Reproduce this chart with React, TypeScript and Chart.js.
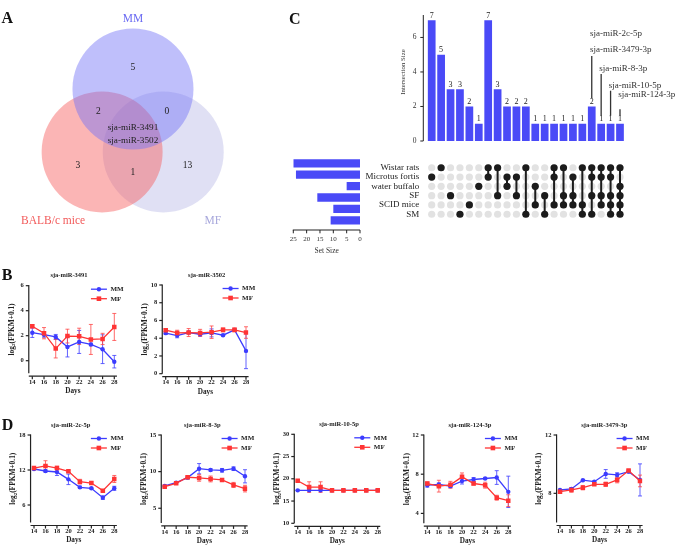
import React, { useEffect, useRef } from 'react';
import { Chart, registerables } from 'chart.js';

Chart.register(...registerables);

const SERIF = '"Liberation Serif", "Times New Roman", Times, serif';
const INK = '#222222';
const BAR_BLUE = '#4a4af7';
const MM_BLUE = '#3c3cff';
const MF_RED = '#ff3434';

// ---------- A: Venn diagram ----------
const vennSetNames = ['MM', 'BALB/c mice', 'MF'];
const vennRegionKeys = ['MM', 'MM&BALB/c', 'MM&MF', 'BALB/c', 'BALB/c&MF', 'MF'];
const vennRegionCounts = [5, 2, 0, 3, 1, 13];
const vennSharedMiRNAs = ['sja-miR-3491', 'sja-miR-3502'];

// ---------- C: UpSet plot ----------
const upsetSets = ['Wistar rats', 'Microtus fortis', 'water buffalo', 'SF', 'SCID mice', 'SM'];
const upsetSetSizes = [25, 24, 5, 16, 10, 11];
const intersectionSizes = [7, 5, 3, 3, 2, 1, 7, 3, 2, 2, 2, 1, 1, 1, 1, 1, 1, 2, 1, 1, 1];
const intersectionMembers = [
  ['Microtus fortis'],
  ['Wistar rats'],
  ['SF'],
  ['SM'],
  ['SCID mice'],
  ['water buffalo'],
  ['Wistar rats', 'Microtus fortis'],
  ['Wistar rats', 'SF'],
  ['Microtus fortis', 'water buffalo'],
  ['Microtus fortis', 'SF'],
  ['Wistar rats', 'SM'],
  ['water buffalo', 'SCID mice'],
  ['SF', 'SM'],
  ['Wistar rats', 'Microtus fortis', 'SCID mice'],
  ['Wistar rats', 'SF', 'SCID mice'],
  ['Microtus fortis', 'SF', 'SCID mice'],
  ['Wistar rats', 'SCID mice', 'SM'],
  ['Wistar rats', 'Microtus fortis', 'SF', 'SM'],
  ['Wistar rats', 'Microtus fortis', 'SF', 'SCID mice'],
  ['Wistar rats', 'Microtus fortis', 'SF', 'SCID mice', 'SM'],
  ['Wistar rats', 'water buffalo', 'SF', 'SCID mice', 'SM'],
];
const highlightColumns = [17, 18, 19, 20];
const highlightNames = [['sja-miR-2c-5p', 'sja-miR-3479-3p'], ['sja-miR-8-3p'], ['sja-miR-10-5p'], ['sja-miR-124-3p']];

// ---------- B / D: expression time courses ----------
const days = [14, 16, 18, 20, 22, 24, 26, 28];

const mir3491MM = [2.24, 2.08, 1.9, 1.1, 1.5, 1.3, 0.92, -0.08];
const mir3491MMErr = [0.38, 0.2, 0.2, 0.8, 0.92, 0.1, 1.15, 0.5];
const mir3491MF = [2.76, 2.2, 0.97, 1.97, 1.95, 1.7, 1.74, 2.7];
const mir3491MFErr = [0.12, 0.45, 0.75, 0.55, 0.65, 1.2, 0.45, 1.08];

const mir3502MM = [4.57, 4.3, 4.64, 4.45, 4.6, 4.34, 4.94, 2.57];
const mir3502MMErr = [0.15, 0.25, 0.1, 0.2, 0.45, 0.1, 0.1, 2.0];
const mir3502MF = [4.9, 4.6, 4.64, 4.6, 4.68, 4.94, 4.94, 4.64];
const mir3502MFErr = [0.15, 0.3, 0.45, 0.4, 0.7, 0.2, 0.2, 0.65];

const mir2c5pMM = [12.17, 11.83, 11.66, 10.4, 9.03, 8.86, 7.26, 8.86];
const mir2c5pMMErr = [0.15, 0.2, 0.6, 0.9, 0.2, 0.1, 0.3, 0.35];
const mir2c5pMF = [12.34, 12.69, 12.34, 11.77, 10.0, 9.77, 8.46, 10.46];
const mir2c5pMFErr = [0.2, 0.9, 0.3, 0.2, 0.4, 0.2, 0.15, 0.6];

const mir83pMM = [8.05, 8.5, 9.18, 10.4, 10.23, 10.18, 10.4, 9.36];
const mir83pMMErr = [0.1, 0.1, 0.15, 0.7, 0.15, 0.25, 0.25, 0.9];
const mir83pMF = [7.95, 8.4, 9.23, 9.14, 9.0, 8.86, 8.18, 7.68];
const mir83pMFErr = [0.1, 0.1, 0.2, 0.45, 0.4, 0.1, 0.35, 0.45];

const mir105pMM = [17.4, 17.4, 17.4, 17.4, 17.4, 17.4, 17.4, 17.4];
const mir105pMMErr = [0.1, 0.1, 0.1, 0.1, 0.1, 0.1, 0.1, 0.1];
const mir105pMF = [19.55, 18.13, 18.13, 17.4, 17.4, 17.4, 17.4, 17.4];
const mir105pMFErr = [0.15, 1.2, 1.2, 0.1, 0.05, 0.05, 0.05, 0.05];

const mir1243pMM = [6.88, 6.95, 6.78, 7.3, 7.46, 7.56, 7.66, 6.2];
const mir1243pMMErr = [0.2, 0.15, 0.15, 0.3, 0.2, 0.1, 0.7, 1.6];
const mir1243pMF = [7.05, 6.78, 6.92, 7.73, 7.05, 6.88, 5.6, 5.3];
const mir1243pMFErr = [0.15, 0.6, 0.35, 0.4, 0.15, 0.3, 0.25, 0.6];

const mir34793pMM = [8.23, 8.3, 8.9, 8.8, 9.33, 9.26, 9.49, 8.92];
const mir34793pMMErr = [0.05, 0.1, 0.05, 0.05, 0.3, 0.15, 0.1, 1.1];
const mir34793pMF = [8.11, 8.23, 8.39, 8.62, 8.62, 8.92, 9.56, 8.85];
const mir34793pMFErr = [0.05, 0.15, 0.15, 0.05, 0.15, 0.2, 0.05, 0.4];

// ---------- layout helpers ----------
type Box = { x: number; y: number; w: number; h: number };

const serif = (size: number, bold = false) => `${bold ? 'bold ' : ''}${size}px ${SERIF}`;

function seg(ctx: CanvasRenderingContext2D, x1: number, y1: number, x2: number, y2: number) {
  ctx.beginPath();
  ctx.moveTo(x1, y1);
  ctx.lineTo(x2, y2);
  ctx.stroke();
}

function ChartCanvas({ box, build }: { box: Box; build: (el: HTMLCanvasElement) => Chart }) {
  const ref = useRef<HTMLCanvasElement | null>(null);
  useEffect(() => {
    const chart = build(ref.current as HTMLCanvasElement);
    return () => chart.destroy();
  }, []);
  return (
    <canvas
      ref={ref}
      width={box.w}
      height={box.h}
      style={{ position: 'absolute', left: box.x, top: box.y, width: box.w, height: box.h }}
    />
  );
}

// ---------- Venn ----------
const VENN_BOX: Box = { x: 0, y: 0, w: 280, h: 240 };
// circle centres in units of the circle radius
const vennCentres: Record<string, [number, number]> = {
  MM: [0, 0],
  'BALB/c mice': [-0.51, 1.04],
  MF: [0.5, 1.04],
};
const vennFill: Record<string, string> = {
  MM: 'rgba(112,112,246,0.45)',
  'BALB/c mice': 'rgba(246,92,92,0.45)',
  MF: 'rgba(182,182,228,0.42)',
};
const vennNameColor: Record<string, string> = {
  MM: '#6a6af2',
  'BALB/c mice': '#f25a5a',
  MF: '#a8a8dc',
};
const vennNamePos: Record<string, [number, number]> = {
  MM: [0, -1.16],
  'BALB/c mice': [-1.32, 2.18],
  MF: [1.32, 2.18],
};
const vennRegionPos: Record<string, [number, number]> = {
  MM: [0, -0.35],
  'MM&BALB/c': [-0.57, 0.375],
  'MM&MF': [0.56, 0.375],
  'BALB/c': [-0.91, 1.27],
  'BALB/c&MF': [0, 1.38],
  MF: [0.9, 1.27],
};

function buildVenn(el: HTMLCanvasElement) {
  const labels = {
    id: 'vennLabels',
    afterDatasetsDraw(chart: any) {
      const { ctx } = chart;
      const sx = chart.scales.x;
      const sy = chart.scales.y;
      const px = (u: number) => sx.getPixelForValue(u);
      const py = (v: number) => sy.getPixelForValue(v);
      ctx.save();
      ctx.textAlign = 'center';
      ctx.textBaseline = 'middle';
      ctx.font = serif(11.5);
      vennSetNames.forEach((n) => {
        ctx.fillStyle = vennNameColor[n];
        const [u, v] = vennNamePos[n];
        ctx.fillText(n, px(u), py(v));
      });
      ctx.fillStyle = INK;
      ctx.font = serif(9.5);
      vennRegionKeys.forEach((k, i) => {
        const [u, v] = vennRegionPos[k];
        ctx.fillText(String(vennRegionCounts[i]), px(u), py(v));
      });
      ctx.font = serif(9.2);
      vennSharedMiRNAs.forEach((n, i) => ctx.fillText(n, px(0), py(0.64 + i * 0.215)));
      ctx.restore();
    },
  };
  // one unit of the scale is one circle radius
  const unitRadius = (c: any) => {
    const s = c.chart.scales.x;
    if (!s || !isFinite(s.getPixelForValue(1))) return 0;
    return Math.abs(s.getPixelForValue(1) - s.getPixelForValue(0));
  };
  return new Chart(el, {
    type: 'scatter',
    data: {
      datasets: vennSetNames.map((n) => ({
        data: [{ x: vennCentres[n][0], y: vennCentres[n][1] }],
        backgroundColor: vennFill[n],
        pointBackgroundColor: vennFill[n],
        pointBorderWidth: 0,
        pointRadius: unitRadius,
        pointHoverRadius: unitRadius,
        clip: false,
      })) as any,
    },
    options: {
      responsive: false,
      animation: false,
      devicePixelRatio: 1,
      layout: { padding: 0 },
      events: [],
      plugins: { legend: { display: false }, tooltip: { enabled: false } },
      scales: {
        x: { type: 'linear', min: -2.198, max: 2.43, display: false },
        y: { type: 'linear', min: -1.471, max: 2.496, reverse: true, display: false },
      },
    },
    plugins: [labels],
  });
}

// ---------- UpSet: intersection bars ----------
const BARS_BOX: Box = { x: 380, y: 0, w: 298, h: 156 };
const PLOT_L = 427;
const PLOT_R = 624.7;
const hlTextY = [[33.3, 50], [68.3], [86], [95]];
const hlLineTop = [56, 74, 90.7, 109.3];

function buildIntersectionBars(el: HTMLCanvasElement) {
  const yMax = 7.3;
  const deco = {
    id: 'upsetBarsDeco',
    afterDraw(chart: any) {
      const { ctx, chartArea: ca } = chart;
      const sy = chart.scales.y;
      const meta = chart.getDatasetMeta(0);
      const values = chart.data.datasets[0].data as number[];
      ctx.save();
      // value labels
      ctx.fillStyle = INK;
      ctx.font = serif(8);
      ctx.textAlign = 'center';
      ctx.textBaseline = 'bottom';
      meta.data.forEach((bar: any, i: number) => ctx.fillText(String(values[i]), bar.x, bar.y - 0.5));
      // y axis
      const ax = ca.left - 3.7;
      ctx.strokeStyle = INK;
      ctx.lineWidth = 1;
      seg(ctx, ax, sy.getPixelForValue(0), ax, sy.getPixelForValue(yMax));
      [0, 2, 4, 6].forEach((v) => {
        const p = sy.getPixelForValue(v);
        seg(ctx, ax - 3, p, ax, p);
      });
      // axis title
      ctx.save();
      ctx.translate(23.3, 72);
      ctx.rotate(-Math.PI / 2);
      ctx.textAlign = 'center';
      ctx.textBaseline = 'middle';
      ctx.font = serif(6.8);
      ctx.fillStyle = '#333';
      ctx.fillText('Intersection Size', 0, 0);
      ctx.restore();
      // highlighted miRNAs
      ctx.font = serif(9);
      ctx.textAlign = 'left';
      ctx.textBaseline = 'middle';
      ctx.fillStyle = '#333';
      ctx.strokeStyle = '#333';
      ctx.lineWidth = 1.3;
      highlightColumns.forEach((col, k) => {
        const bar = meta.data[col];
        highlightNames[k].forEach((n, j) => ctx.fillText(n, bar.x - 1.8, hlTextY[k][j] - BARS_BOX.y));
        seg(ctx, bar.x, hlLineTop[k] - BARS_BOX.y, bar.x, bar.y - 8);
      });
      ctx.restore();
    },
  };
  return new Chart(el, {
    type: 'bar',
    data: {
      labels: intersectionSizes.map((_, i) => String(i + 1)),
      datasets: [
        {
          data: intersectionSizes,
          backgroundColor: BAR_BLUE,
          borderWidth: 0,
          barPercentage: 0.82,
          categoryPercentage: 1,
        },
      ],
    },
    options: {
      responsive: false,
      animation: false,
      devicePixelRatio: 1,
      events: [],
      layout: { padding: { left: 0, top: 0.44, right: BARS_BOX.x + BARS_BOX.w - PLOT_R, bottom: BARS_BOX.h - 152.7 } },
      plugins: { legend: { display: false }, tooltip: { enabled: false } },
      scales: {
        x: { type: 'category', display: false, offset: true },
        y: {
          min: 0,
          max: yMax,
          afterBuildTicks: (s: any) => {
            s.ticks = [0, 2, 4, 6].map((v) => ({ value: v }));
          },
          afterFit: (s: any) => {
            s.width = PLOT_L - BARS_BOX.x;
          },
          grid: { display: false, drawTicks: false },
          border: { display: false },
          ticks: { font: { family: SERIF, size: 7.5 }, color: '#333', padding: 10.5, autoSkip: false },
        },
      },
    },
    plugins: [deco],
  });
}

// ---------- UpSet: set sizes ----------
const SETS_BOX: Box = { x: 285, y: 150, w: 85, h: 110 };
const MATRIX_TOP = 157.6;
const MATRIX_BOTTOM = 226;

function buildSetSizes(el: HTMLCanvasElement) {
  const deco = {
    id: 'setSizeDeco',
    afterDraw(chart: any) {
      const { ctx, chartArea: ca } = chart;
      const sx = chart.scales.x;
      const ay = ca.bottom + 4;
      ctx.save();
      ctx.strokeStyle = INK;
      ctx.lineWidth = 1;
      seg(ctx, sx.getPixelForValue(25) - 0.5, ay, sx.getPixelForValue(0), ay);
      [0, 5, 10, 15, 20, 25].forEach((v) => {
        const p = sx.getPixelForValue(v);
        seg(ctx, p, ay, p, ay + 3.3);
      });
      ctx.fillStyle = '#333';
      ctx.font = serif(7.5);
      ctx.textAlign = 'center';
      ctx.textBaseline = 'middle';
      ctx.fillText('Set Size', (ca.left + ca.right) / 2, ca.bottom + 25.3);
      ctx.restore();
    },
  };
  return new Chart(el, {
    type: 'bar',
    data: {
      labels: upsetSets,
      datasets: [
        {
          data: upsetSetSizes,
          backgroundColor: BAR_BLUE,
          borderWidth: 0,
          barPercentage: 0.73,
          categoryPercentage: 1,
        },
      ],
    },
    options: {
      indexAxis: 'y',
      responsive: false,
      animation: false,
      devicePixelRatio: 1,
      events: [],
      layout: {
        padding: {
          left: 293.3 - SETS_BOX.x,
          right: SETS_BOX.x + SETS_BOX.w - 360,
          top: MATRIX_TOP - SETS_BOX.y,
          bottom: 0,
        },
      },
      plugins: { legend: { display: false }, tooltip: { enabled: false } },
      scales: {
        y: { type: 'category', display: false },
        x: {
          min: 0,
          max: 25,
          reverse: true,
          afterBuildTicks: (s: any) => {
            s.ticks = [0, 5, 10, 15, 20, 25].map((v) => ({ value: v }));
          },
          afterFit: (s: any) => {
            s.height = SETS_BOX.y + SETS_BOX.h - MATRIX_BOTTOM;
          },
          grid: { display: false, drawTicks: false },
          border: { display: false },
          ticks: { font: { family: SERIF, size: 7 }, color: '#333', padding: 9.1, maxRotation: 0, autoSkip: false },
        },
      },
    },
    plugins: [deco],
  });
}

// ---------- UpSet: membership matrix ----------
const MATRIX_BOX: Box = { x: 330, y: 150, w: 348, h: 82 };

function buildMatrix(el: HTMLCanvasElement) {
  const rowOf = (name: string) => upsetSets.indexOf(name);
  const filled = intersectionMembers.flatMap((m, c) => m.map((n) => ({ x: c, y: rowOf(n) })));
  const empty = intersectionMembers.flatMap((_, c) => upsetSets.map((_, r) => ({ x: c, y: r })));
  const links = intersectionMembers
    .map((m, c) => ({ c, rows: m.map(rowOf) }))
    .filter((d) => d.rows.length > 1)
    .map((d) => ({
      type: 'line' as const,
      data: [
        { x: d.c, y: Math.min(...d.rows) },
        { x: d.c, y: Math.max(...d.rows) },
      ],
      borderColor: '#1c1c1c',
      borderWidth: 2,
      pointRadius: 0,
    }));
  return new Chart(el, {
    type: 'scatter',
    data: {
      datasets: [
        { data: filled, backgroundColor: '#1c1c1c', borderWidth: 0, pointRadius: 3.6 } as any,
        ...links,
        { data: empty, backgroundColor: '#e2e2e2', borderWidth: 0, pointRadius: 3.6 } as any,
      ],
    },
    options: {
      responsive: false,
      animation: false,
      devicePixelRatio: 1,
      events: [],
      layout: {
        padding: {
          left: 0,
          right: MATRIX_BOX.x + MATRIX_BOX.w - PLOT_R,
          top: MATRIX_TOP - MATRIX_BOX.y,
          bottom: MATRIX_BOX.y + MATRIX_BOX.h - MATRIX_BOTTOM,
        },
      },
      plugins: { legend: { display: false }, tooltip: { enabled: false } },
      scales: {
        x: { type: 'linear', min: -0.5, max: intersectionMembers.length - 0.5, display: false },
        y: {
          type: 'linear',
          min: -0.5,
          max: upsetSets.length - 0.5,
          reverse: true,
          afterBuildTicks: (s: any) => {
            s.ticks = upsetSets.map((_, i) => ({ value: i }));
          },
          afterFit: (s: any) => {
            s.width = PLOT_L - MATRIX_BOX.x;
          },
          grid: { display: false, drawTicks: false },
          border: { display: false },
          ticks: {
            font: { family: SERIF, size: 9 },
            color: INK,
            padding: 7.7,
            autoSkip: false,
            callback: (v: any) => upsetSets[v as number],
          },
        },
      },
    },
  });
}

// ---------- time-course line charts ----------
const X_MIN = 13.4;
const X_MAX = 28.45;

type LineSpec = {
  title: string;
  mm: number[];
  mmErr: number[];
  mf: number[];
  mfErr: number[];
  yMin: number;
  yMax: number;
  yTicks: number[];
  box: Box;
  x14: number;
  x28: number;
  top: number;
  bottom: number;
  titleX: number;
};

const lineSpecs: LineSpec[] = [
  {
    title: 'sja-miR-3491', mm: mir3491MM, mmErr: mir3491MMErr, mf: mir3491MF, mfErr: mir3491MFErr,
    yMin: -1, yMax: 6, yTicks: [0, 2, 4, 6],
    box: { x: 0, y: 266, w: 134, h: 130 }, x14: 32.3, x28: 114.3, top: 285.7, bottom: 373.2, titleX: 69,
  },
  {
    title: 'sja-miR-3502', mm: mir3502MM, mmErr: mir3502MMErr, mf: mir3502MF, mfErr: mir3502MFErr,
    yMin: 0, yMax: 10, yTicks: [0, 2, 4, 6, 8, 10],
    box: { x: 134, y: 266, w: 136, h: 130 }, x14: 165.7, x28: 246, top: 285, bottom: 373.7, titleX: 206.7,
  },
  {
    title: 'sja-miR-2c-5p', mm: mir2c5pMM, mmErr: mir2c5pMMErr, mf: mir2c5pMF, mfErr: mir2c5pMFErr,
    yMin: 3, yMax: 18, yTicks: [6, 12, 18],
    box: { x: 0, y: 416, w: 132, h: 130 }, x14: 34, x28: 114.3, top: 435, bottom: 522.5, titleX: 70.7,
  },
  {
    title: 'sja-miR-8-3p', mm: mir83pMM, mmErr: mir83pMMErr, mf: mir83pMF, mfErr: mir83pMFErr,
    yMin: 3, yMax: 15, yTicks: [5, 10, 15],
    box: { x: 132, y: 416, w: 133, h: 130 }, x14: 164.7, x28: 245, top: 435, bottom: 522.9, titleX: 202.3,
  },
  {
    title: 'sja-miR-10-5p', mm: mir105pMM, mmErr: mir105pMMErr, mf: mir105pMF, mfErr: mir105pMFErr,
    yMin: 10, yMax: 30, yTicks: [10, 15, 20, 25, 30],
    box: { x: 265, y: 416, w: 133, h: 130 }, x14: 297.7, x28: 377.7, top: 434.3, bottom: 523.3, titleX: 339,
  },
  {
    title: 'sja-miR-124-3p', mm: mir1243pMM, mmErr: mir1243pMMErr, mf: mir1243pMF, mfErr: mir1243pMFErr,
    yMin: 3, yMax: 12, yTicks: [4, 8, 12],
    box: { x: 398, y: 416, w: 135, h: 130 }, x14: 427.3, x28: 508.3, top: 435, bottom: 523.2, titleX: 470,
  },
  {
    title: 'sja-miR-3479-3p', mm: mir34793pMM, mmErr: mir34793pMMErr, mf: mir34793pMF, mfErr: mir34793pMFErr,
    yMin: 6, yMax: 12, yTicks: [8, 12],
    box: { x: 533, y: 416, w: 145, h: 130 }, x14: 560, x28: 640, top: 435, bottom: 522.5, titleX: 604.3,
  },
];

function buildLineChart(el: HTMLCanvasElement, spec: LineSpec) {
  const perDay = (spec.x28 - spec.x14) / 14;
  const plotL = spec.x14 - (14 - X_MIN) * perDay;
  const plotR = spec.x28 + (X_MAX - 28) * perDay;
  const { box } = spec;

  const frame = {
    id: 'prismFrame',
    beforeDatasetsDraw(chart: any) {
      const { ctx } = chart;
      const sx = chart.scales.x;
      const sy = chart.scales.y;
      ctx.save();
      ctx.lineWidth = 1;
      chart.data.datasets.forEach((ds: any) => {
        ctx.strokeStyle = ds.errorColor;
        ds.data.forEach((p: any, j: number) => {
          const e = ds.errors[j];
          const px = sx.getPixelForValue(p.x);
          const y1 = sy.getPixelForValue(p.y + e);
          const y2 = sy.getPixelForValue(p.y - e);
          ctx.beginPath();
          ctx.moveTo(px, y1);
          ctx.lineTo(px, y2);
          ctx.moveTo(px - 2, y1);
          ctx.lineTo(px + 2, y1);
          ctx.moveTo(px - 2, y2);
          ctx.lineTo(px + 2, y2);
          ctx.stroke();
        });
      });
      ctx.restore();
    },
    afterDraw(chart: any) {
      const { ctx, chartArea: ca } = chart;
      const sx = chart.scales.x;
      const sy = chart.scales.y;
      ctx.save();
      ctx.strokeStyle = INK;
      ctx.lineWidth = 1.2;
      // y axis with outward ticks
      seg(ctx, ca.left, sy.getPixelForValue(spec.yMax) - 0.6, ca.left, sy.getPixelForValue(spec.yMin));
      spec.yTicks.forEach((v) => {
        const p = sy.getPixelForValue(v);
        seg(ctx, ca.left - 3, p, ca.left, p);
      });
      // detached x axis
      const xb = ca.bottom + 3;
      seg(ctx, ca.left, xb, ca.right, xb);
      days.forEach((d) => {
        const p = sx.getPixelForValue(d);
        seg(ctx, p, xb, p, xb + 3);
      });
      ctx.fillStyle = INK;
      ctx.textAlign = 'center';
      ctx.textBaseline = 'middle';
      // title
      ctx.font = serif(6.5, true);
      ctx.fillText(spec.title, spec.titleX - box.x, ca.top - 10);
      // x title
      ctx.font = serif(7.2, true);
      ctx.fillText('Days', (ca.left + ca.right) / 2, ca.bottom + 18);
      // y title: log2(FPKM+0.1) with subscript
      ctx.save();
      ctx.translate(ca.left - 17, (ca.top + ca.bottom) / 2);
      ctx.rotate(-Math.PI / 2);
      ctx.textAlign = 'left';
      const mainFont = serif(7.4, true);
      const subFont = serif(5, true);
      ctx.font = mainFont;
      const wLog = ctx.measureText('log').width;
      const wRest = ctx.measureText('(FPKM+0.1)').width;
      ctx.font = subFont;
      const wSub = ctx.measureText('2').width;
      let cx = -(wLog + wSub + wRest) / 2;
      ctx.font = mainFont;
      ctx.fillText('log', cx, 0);
      cx += wLog;
      ctx.font = subFont;
      ctx.fillText('2', cx, 2);
      cx += wSub;
      ctx.font = mainFont;
      ctx.fillText('(FPKM+0.1)', cx, 0);
      ctx.restore();
      // legend
      chart.data.datasets.forEach((ds: any, i: number) => {
        const ly = ca.top + 3.5 + i * 9.5;
        const x0 = ca.right - 26;
        ctx.strokeStyle = ds.borderColor;
        ctx.lineWidth = 1.3;
        seg(ctx, x0, ly, x0 + 16, ly);
        ctx.fillStyle = ds.backgroundColor;
        if (ds.pointStyle === 'rect') {
          ctx.fillRect(x0 + 8 - 2.3, ly - 2.3, 4.6, 4.6);
        } else {
          ctx.beginPath();
          ctx.arc(x0 + 8, ly, 2.2, 0, Math.PI * 2);
          ctx.fill();
        }
        ctx.fillStyle = INK;
        ctx.font = serif(7, true);
        ctx.textAlign = 'left';
        ctx.fillText(ds.label, x0 + 19.5, ly);
      });
      ctx.restore();
    },
  };

  const series = (
    label: string,
    vals: number[],
    errs: number[],
    color: string,
    errColor: string,
    style: string,
    r: number,
    order: number,
  ) => ({
    label,
    data: days.map((d, i) => ({ x: d, y: vals[i] })),
    errors: errs,
    errorColor: errColor,
    borderColor: color,
    backgroundColor: color,
    pointStyle: style,
    pointRadius: r,
    pointBorderWidth: 0,
    borderWidth: 1.3,
    tension: 0,
    order,
  });

  return new Chart(el, {
    type: 'line',
    data: {
      datasets: [
        series('MM', spec.mm, spec.mmErr, MM_BLUE, 'rgba(70,70,255,0.85)', 'circle', 2.2, 1) as any,
        series('MF', spec.mf, spec.mfErr, MF_RED, 'rgba(255,70,70,0.8)', 'rect', 3.2, 0) as any,
      ],
    },
    options: {
      responsive: false,
      animation: false,
      devicePixelRatio: 1,
      events: [],
      layout: { padding: { left: 0, top: spec.top - box.y, right: box.x + box.w - plotR, bottom: 0 } },
      plugins: { legend: { display: false }, tooltip: { enabled: false } },
      scales: {
        x: {
          type: 'linear',
          min: X_MIN,
          max: X_MAX,
          afterBuildTicks: (s: any) => {
            s.ticks = days.map((v) => ({ value: v }));
          },
          afterFit: (s: any) => {
            s.height = box.y + box.h - spec.bottom;
          },
          grid: { display: false, drawTicks: false },
          border: { display: false },
          ticks: { font: { family: SERIF, size: 6.5, weight: 'bold' }, color: INK, padding: 5.1, maxRotation: 0, autoSkip: false },
        },
        y: {
          type: 'linear',
          min: spec.yMin,
          max: spec.yMax,
          afterBuildTicks: (s: any) => {
            s.ticks = spec.yTicks.map((v) => ({ value: v }));
          },
          afterFit: (s: any) => {
            s.width = plotL - box.x;
          },
          grid: { display: false, drawTicks: false },
          border: { display: false },
          ticks: { font: { family: SERIF, size: 6.5, weight: 'bold' }, color: INK, padding: 5, autoSkip: false },
        },
      },
    },
    plugins: [frame],
  });
}

const panelLetters = [
  { t: 'A', x: 1.5, y: 10 },
  { t: 'C', x: 289, y: 10.5 },
  { t: 'B', x: 1.7, y: 266.5 },
  { t: 'D', x: 1.7, y: 417 },
];

export default function App() {
  return (
    <div
      style={{
        position: 'absolute',
        left: 0,
        top: 0,
        width: 678,
        height: 546,
        background: '#ffffff',
        overflow: 'hidden',
      }}
    >
      <ChartCanvas box={VENN_BOX} build={buildVenn} />
      <ChartCanvas box={BARS_BOX} build={buildIntersectionBars} />
      <ChartCanvas box={SETS_BOX} build={buildSetSizes} />
      <ChartCanvas box={MATRIX_BOX} build={buildMatrix} />
      {lineSpecs.map((s) => (
        <ChartCanvas key={s.title} box={s.box} build={(el) => buildLineChart(el, s)} />
      ))}
      {panelLetters.map((p) => (
        <div
          key={p.t}
          style={{
            position: 'absolute',
            left: p.x,
            top: p.y,
            font: `bold 16px ${SERIF}`,
            lineHeight: '16px',
            color: '#111',
          }}
        >
          {p.t}
        </div>
      ))}
    </div>
  );
}
